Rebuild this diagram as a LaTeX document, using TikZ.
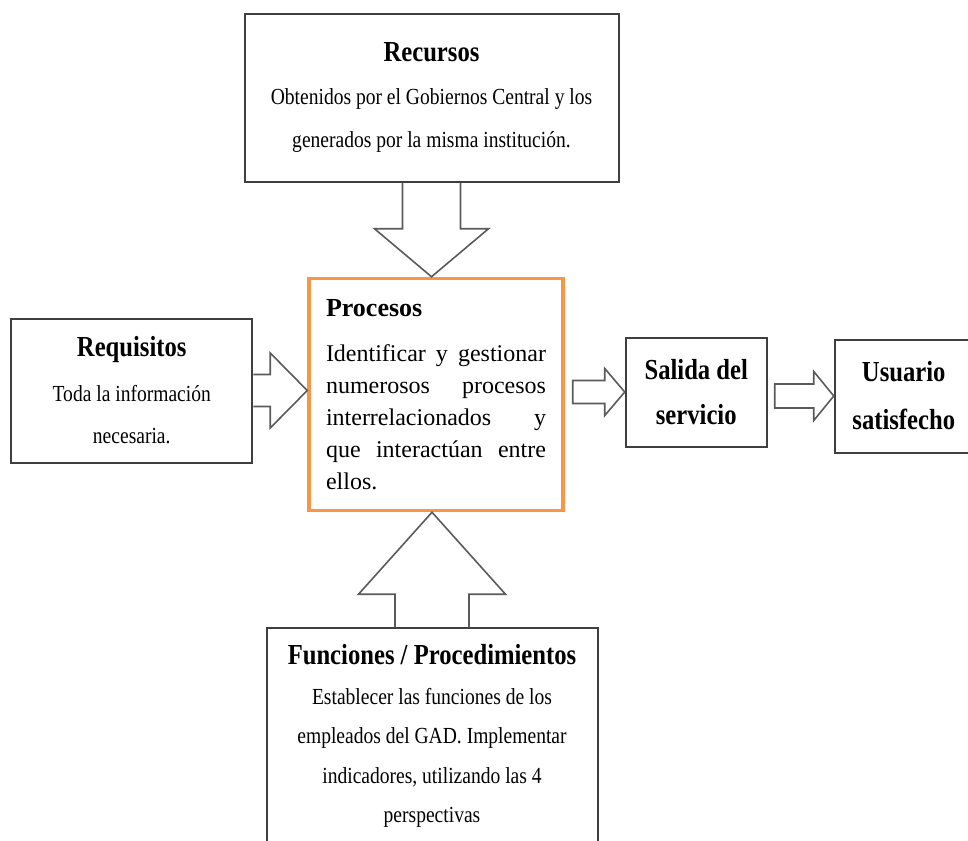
\documentclass[tikz,border=0pt]{standalone}
\usepackage{fontspec}
\setmainfont{Liberation Serif}
\newfontfamily\narrowserif{Liberation Serif}[FakeStretch=0.85]
\usepackage{tikz}
\usetikzlibrary{positioning}
\usetikzlibrary{calc}
\definecolor{procorange}{HTML}{F79646}
\definecolor{boxgray}{HTML}{3F3F3F}
\definecolor{arrowgray}{HTML}{5A5A5A}

\begin{document}
\begin{tikzpicture}[
    x=1pt, y=-1pt,
    plainbox/.style={
        draw=boxgray, line width=2pt,
        align=center,
        font=\narrowserif\fontsize{23}{43}\selectfont
    },
    procbox/.style={
        draw=procorange, line width=3.5pt,
        minimum width=254pt, minimum height=232pt,
        text width=220pt, align=left,
        font=\fontsize{24}{32}\selectfont
    },
    blockarrow/.style={
        draw=arrowgray, line width=1.6pt, line join=miter
    }
]
\useasboundingbox (0,0) rectangle (968,840);

\node[procbox] (procesos) at (436,394.5) {
    {\fontsize{26}{32}\selectfont\bfseries Procesos}\\[13pt]
    \makebox[220pt][l]{Identificar\hfill y\hfill gestionar}\\
    \makebox[220pt][l]{numerosos\hfill procesos}\\
    \makebox[220pt][l]{interrelacionados\hfill y}\\
    \makebox[220pt][l]{que\hfill interactúan\hfill entre}\\
    ellos.
};
\node[plainbox, minimum width=374pt, minimum height=168pt,
      above=94pt of procesos, xshift=-4.5pt] (recursos) {
    {\fontsize{29}{43}\selectfont\bfseries Recursos}\\
    Obtenidos por el Gobiernos Central y los\\
    generados por la misma institución.
};
\node[plainbox, minimum width=241pt, minimum height=144pt,
      left=54pt of procesos, yshift=4pt,
      font=\narrowserif\fontsize{23}{42}\selectfont] (requisitos) {
    {\fontsize{29}{42}\selectfont\bfseries Requisitos}\\[3pt]
    Toda la información\\
    necesaria.
};
\node[plainbox, minimum width=141pt, minimum height=109pt,
      right=60pt of procesos, yshift=2.5pt,
      font=\narrowserif\fontsize{29}{45}\selectfont\bfseries] (salida) {
    Salida del\\
    servicio
};
\node[plainbox, minimum width=138pt, minimum height=113pt,
      right=66pt of salida, yshift=-4pt,
      font=\narrowserif\fontsize{29}{48}\selectfont\bfseries] (usuario) {
    Usuario\\
    satisfecho
};
\node[plainbox, minimum width=331pt, minimum height=216pt,
      below=115pt of procesos, xshift=-4pt,
      font=\narrowserif\fontsize{23}{39.5}\selectfont] (funciones) {
    {\fontsize{29}{39.5}\selectfont\bfseries Funciones / Procedimientos}\\
    Establecer las funciones de los\\
    empleados del GAD. Implementar\\
    indicadores, utilizando las 4\\
    perspectivas
};

% block arrows into Procesos
\draw[blockarrow] ($(recursos.south)+(-29,0)$) -- ++(0,46) -- ++(-28,0)
    -- (recursos.south |- procesos.north)
    -- ($(recursos.south)+(57,46)$) -- ++(-28,0) -- ($(recursos.south)+(29,0)$);
\draw[blockarrow] ($(funciones.north)+(-37,0)$) -- ++(0,-33) -- ++(-36.5,0)
    -- (funciones.north |- procesos.south)
    -- ($(funciones.north)+(73.5,-33)$) -- ++(-36.5,0) -- ($(funciones.north)+(37,0)$);
\draw[blockarrow] ($(requisitos.east)+(0,-16)$) -- ++(17,0) -- ++(0,-21.5)
    -- (requisitos.east -| procesos.west)
    -- ($(requisitos.east)+(17,37.5)$) -- ++(0,-21.5) -- ($(requisitos.east)+(0,16)$);

% block arrows to the output
\draw[blockarrow] ($(procesos.east |- salida.west)+(8,-11.5)$)
    -- ($(salida.west)+(-20,-11.5)$) -- ($(salida.west)+(-20,-23.5)$)
    -- (salida.west)
    -- ($(salida.west)+(-20,23.5)$) -- ($(salida.west)+(-20,11.5)$)
    -- ($(procesos.east |- salida.west)+(8,11.5)$) -- cycle;
\draw[blockarrow] ($(salida.east |- usuario.west)+(7,-12)$)
    -- ($(usuario.west)+(-20,-12)$) -- ($(usuario.west)+(-20,-24.5)$)
    -- (usuario.west)
    -- ($(usuario.west)+(-20,24.5)$) -- ($(usuario.west)+(-20,12)$)
    -- ($(salida.east |- usuario.west)+(7,12)$) -- cycle;
\end{tikzpicture}
\end{document}
